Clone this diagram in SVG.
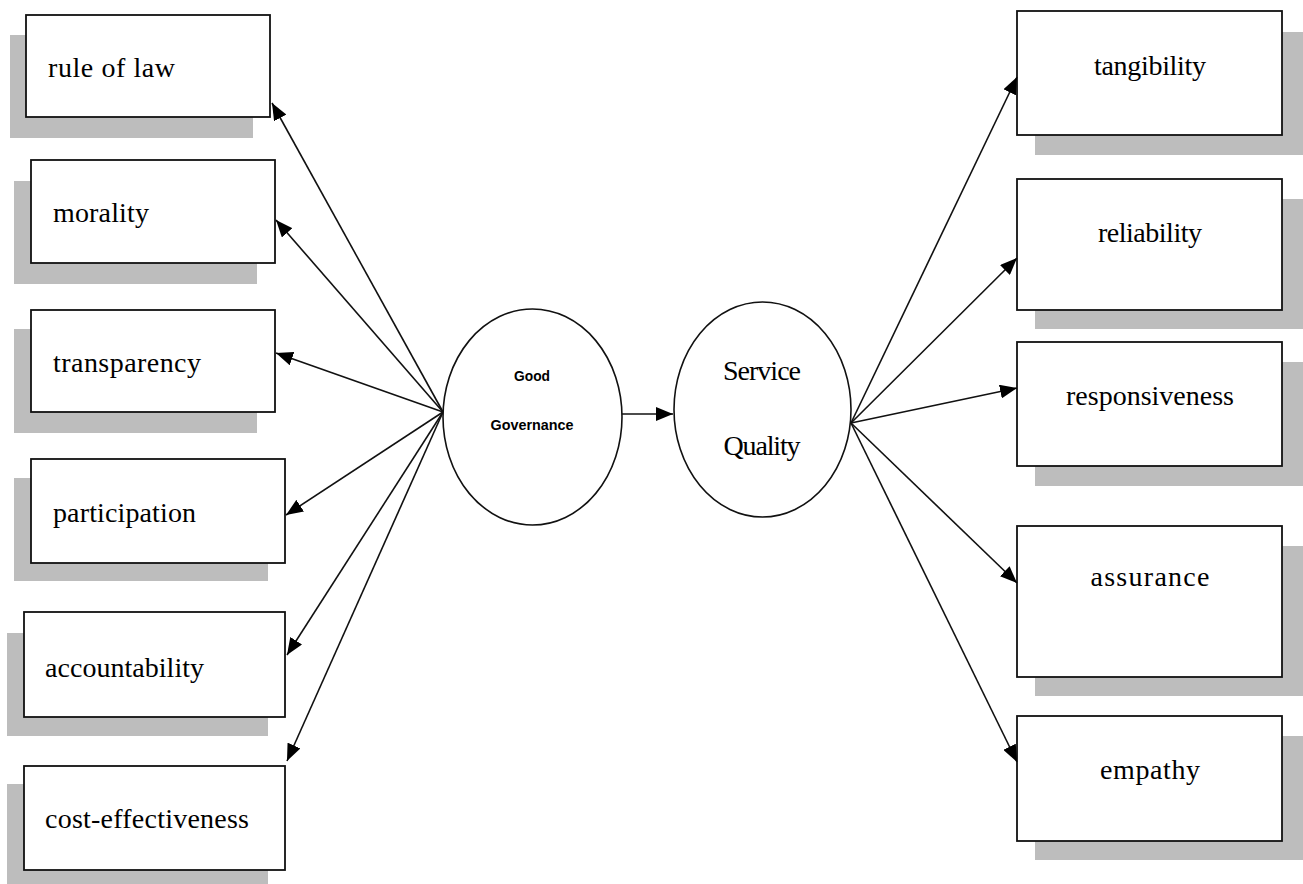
<svg xmlns="http://www.w3.org/2000/svg" width="1303" height="884" viewBox="0 0 1303 884">
<style>
.shadow{fill:#bdbdbd;stroke:none}
.box{fill:#fff;stroke:#111;stroke-width:1.8}
.ell{fill:#fff;stroke:#111;stroke-width:1.6}
.lbl{font-family:"Liberation Serif","Times New Roman",serif;font-size:28px;fill:#000}
.mid{text-anchor:middle}
.gg{font-family:"Liberation Sans",Arial,sans-serif;font-size:15px;font-weight:bold;fill:#000;text-anchor:middle}
.conn line{stroke:#111;stroke-width:1.6;marker-end:url(#ah)}
</style>
<defs>
<marker id="ah" markerUnits="userSpaceOnUse" markerWidth="18" markerHeight="14" refX="17" refY="7" orient="auto">
<path d="M0,0 L17,7 L0,14 Z" fill="#000"/>
</marker>
</defs>
<rect width="1303" height="884" fill="#fff"/>

<g id="rule-of-law">
<rect class="shadow" x="10" y="35" width="243" height="103"/>
<rect class="box" x="26" y="15" width="244" height="102"/>
<text class="lbl" x="48" y="77" textLength="127" lengthAdjust="spacing">rule of law</text>
</g>
<g id="morality">
<rect class="shadow" x="14" y="181" width="243" height="103"/>
<rect class="box" x="31" y="160" width="244" height="103"/>
<text class="lbl" x="53" y="222" textLength="96" lengthAdjust="spacing">morality</text>
</g>
<g id="transparency">
<rect class="shadow" x="14" y="329" width="243" height="104"/>
<rect class="box" x="31" y="310" width="244" height="102"/>
<text class="lbl" x="53" y="372" textLength="148" lengthAdjust="spacing">transparency</text>
</g>
<g id="participation">
<rect class="shadow" x="14" y="478" width="254" height="103"/>
<rect class="box" x="31" y="459" width="254" height="104"/>
<text class="lbl" x="53" y="522" textLength="143" lengthAdjust="spacing">participation</text>
</g>
<g id="accountability">
<rect class="shadow" x="7" y="633" width="261" height="103"/>
<rect class="box" x="24" y="612" width="261" height="105"/>
<text class="lbl" x="45" y="677" textLength="159" lengthAdjust="spacing">accountability</text>
</g>
<g id="cost-effectiveness">
<rect class="shadow" x="7" y="784" width="261" height="100"/>
<rect class="box" x="24" y="766" width="261" height="104"/>
<text class="lbl" x="45" y="828" textLength="204" lengthAdjust="spacing">cost-effectiveness</text>
</g>

<g id="tangibility">
<rect class="shadow" x="1035" y="32" width="268" height="123"/>
<rect class="box" x="1017" y="11" width="265" height="124"/>
<text class="lbl mid" x="1150" y="75" textLength="112" lengthAdjust="spacing">tangibility</text>
</g>
<g id="reliability">
<rect class="shadow" x="1035" y="199" width="268" height="130"/>
<rect class="box" x="1017" y="179" width="265" height="131"/>
<text class="lbl mid" x="1150" y="242" textLength="104" lengthAdjust="spacing">reliability</text>
</g>
<g id="responsiveness">
<rect class="shadow" x="1035" y="362" width="268" height="124"/>
<rect class="box" x="1017" y="342" width="265" height="124"/>
<text class="lbl mid" x="1150" y="405" textLength="168" lengthAdjust="spacing">responsiveness</text>
</g>
<g id="assurance">
<rect class="shadow" x="1035" y="546" width="268" height="150"/>
<rect class="box" x="1017" y="526" width="265" height="151"/>
<text class="lbl mid" x="1150" y="586" textLength="119" lengthAdjust="spacing">assurance</text>
</g>
<g id="empathy">
<rect class="shadow" x="1035" y="736" width="268" height="124"/>
<rect class="box" x="1017" y="716" width="265" height="125"/>
<text class="lbl mid" x="1150" y="779" textLength="100" lengthAdjust="spacing">empathy</text>
</g>

<g id="connectors" class="conn">
<line x1="443" y1="412" x2="272" y2="103"/>
<line x1="443" y1="412" x2="276" y2="220"/>
<line x1="443" y1="412" x2="276" y2="353"/>
<line x1="443" y1="412" x2="286" y2="515"/>
<line x1="443" y1="412" x2="287" y2="655"/>
<line x1="443" y1="412" x2="287" y2="761"/>
<line x1="622" y1="414" x2="673" y2="414"/>
<line x1="851" y1="423" x2="1017" y2="77"/>
<line x1="851" y1="423" x2="1017" y2="258"/>
<line x1="851" y1="423" x2="1017" y2="388"/>
<line x1="851" y1="423" x2="1017" y2="583"/>
<line x1="851" y1="423" x2="1017" y2="762"/>
</g>

<g id="good-governance">
<ellipse class="ell" cx="532.5" cy="417" rx="89.5" ry="108"/>
<text class="gg" x="532" y="381" textLength="36" lengthAdjust="spacingAndGlyphs">Good</text>
<text class="gg" x="532" y="430" textLength="83" lengthAdjust="spacingAndGlyphs">Governance</text>
</g>
<g id="service-quality">
<ellipse class="ell" cx="762.5" cy="409.5" rx="88.5" ry="107.5"/>
<text class="lbl mid" x="762" y="380" textLength="78" lengthAdjust="spacing">Service</text>
<text class="lbl mid" x="762" y="455" textLength="77" lengthAdjust="spacing">Quality</text>
</g>
</svg>
